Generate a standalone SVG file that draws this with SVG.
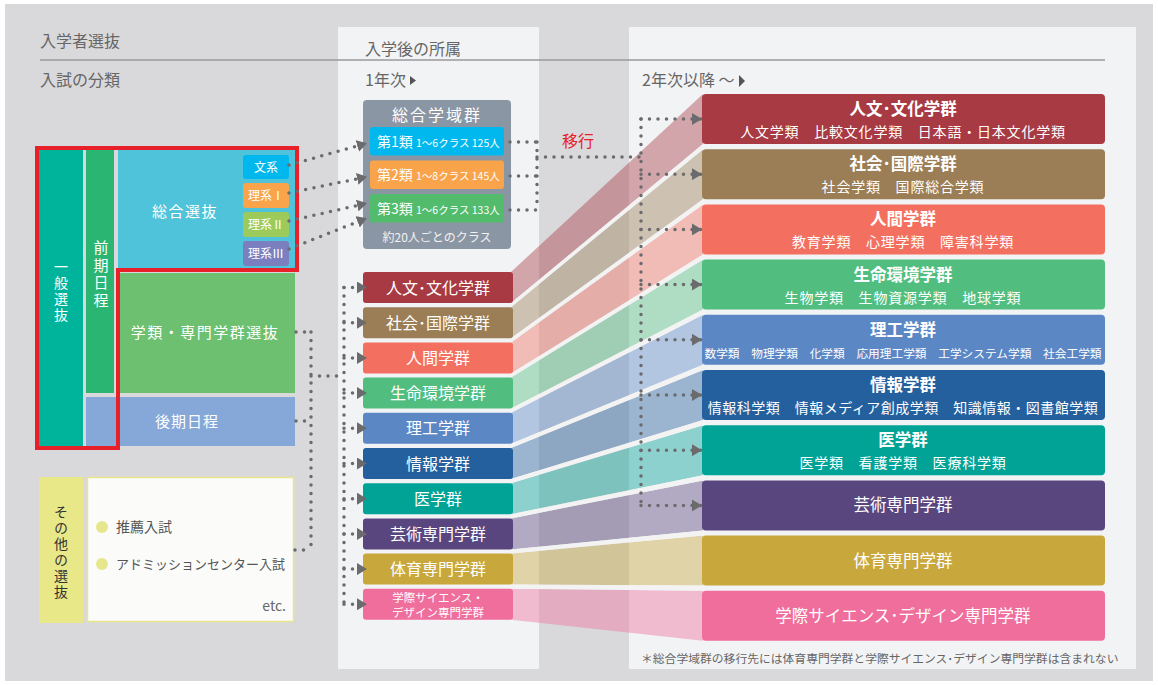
<svg xmlns="http://www.w3.org/2000/svg" width="1158" height="685" viewBox="0 0 1158 685">
<style>
text{font-family:"Noto Sans CJK JP","Noto Sans",sans-serif}
.hd{font-size:16px;fill:#666}
.w{fill:#fff}
.lb{font-size:15px;fill:#fff;text-anchor:middle;letter-spacing:1.5px}
.vt{font-size:14px;fill:#fff;writing-mode:vertical-rl;text-orientation:upright;letter-spacing:2px}
.tab{font-size:12px;fill:#fff;text-anchor:middle}
.cl{font-size:16px;fill:#fff;text-anchor:middle}
.rt{font-size:16.5px;fill:#fff;text-anchor:middle;font-weight:bold}
.rt2{font-size:16.5px;fill:#fff;text-anchor:middle}
.rs{font-size:14px;fill:#fff;text-anchor:middle;letter-spacing:0.8px}
.dot{fill:none;stroke:#6b6b6d;stroke-width:3.5;stroke-linecap:round;stroke-dasharray:0 8.5}
.rib{opacity:0.42}
.sep{fill:#f3f3f4}
</style>
<defs>
<marker id="ah" markerUnits="userSpaceOnUse" viewBox="0 0 10 12" markerWidth="10" markerHeight="12" refX="9" refY="6" orient="auto">
<path d="M0,0 L10,6 L0,12 z" fill="#6b6b6d"/>
</marker>
</defs>
<rect x="0" y="0" width="1158" height="685" fill="#fff"/>
<rect x="5" y="4" width="1148" height="677" fill="#d9d9db"/>
<rect x="338" y="27" width="201" height="642" fill="#f2f3f5"/>
<rect x="629" y="27" width="507" height="642" fill="#f2f3f5"/>
<line x1="40" y1="60" x2="1105" y2="60" stroke="#9a9a9c" stroke-width="1.5"/>
<g id="headers">
<text class="hd" x="40" y="47">入学者選抜</text>
<text class="hd" x="40" y="86">入試の分類</text>
<text class="hd" x="365" y="55">入学後の所属</text>
<text class="hd" x="365" y="86">1年次</text>
<polygon points="410,76 416,80.5 410,85" fill="#555"/>
<text class="hd" x="642" y="86">2年次以降 ～</text>
<polygon points="739,75 745,81 739,87" fill="#555"/>
</g>
<g id="ribbons">
<polygon class="rib" fill="#a83a43" points="511,272 703,94 703,144 511,303"/>
<polygon class="rib" fill="#9b7e56" points="511,307.2 703,149.2 703,199.2 511,338.2"/>
<polygon class="rib" fill="#f37060" points="511,342.4 703,204.4 703,254.4 511,373.4"/>
<polygon class="rib" fill="#51be80" points="511,377.6 703,259.6 703,309.6 511,408.6"/>
<polygon class="rib" fill="#5b87c5" points="511,412.8 703,314.8 703,364.8 511,443.8"/>
<polygon class="rib" fill="#24609d" points="511,448 703,370 703,420 511,479"/>
<polygon class="rib" fill="#01a396" points="511,483.2 703,425.2 703,475.2 511,514.2"/>
<polygon class="rib" fill="#5a467e" points="511,518.4 703,480.4 703,530.4 511,549.4"/>
<polygon class="rib" fill="#c8a83d" points="511,553.6 703,535.6 703,585.6 511,584.6"/>
<polygon class="rib" fill="#f06e9c" points="511,588.8 703,590.8 703,640.8 511,619.8"/>
<polygon class="sep" points="511,303 703,144 703,149.2 511,307.2"/>
<polygon class="sep" points="511,338.2 703,199.2 703,204.4 511,342.4"/>
<polygon class="sep" points="511,373.4 703,254.4 703,259.6 511,377.6"/>
<polygon class="sep" points="511,408.6 703,309.6 703,314.8 511,412.8"/>
<polygon class="sep" points="511,443.8 703,364.8 703,370 511,448"/>
<polygon class="sep" points="511,479 703,420 703,425.2 511,483.2"/>
<polygon class="sep" points="511,514.2 703,475.2 703,480.4 511,518.4"/>
<polygon class="sep" points="511,549.4 703,530.4 703,535.6 511,553.6"/>
<polygon class="sep" points="511,584.6 703,585.6 703,590.8 511,588.8"/>
</g>
<g id="ippan">
<rect x="39" y="150" width="44" height="296" fill="#00b49c"/>
<text class="vt" x="61" y="260">一般選抜</text>
</g>
<g id="zenki">
<rect x="86" y="150" width="28" height="243" fill="#2ab573"/>
<text class="vt" x="101" y="240" style="font-size:15px;letter-spacing:2.5px">前期日程</text>
</g>
<g id="sogo">
<rect x="118" y="150" width="177" height="119" fill="#4fc3d9"/>
<text class="lb" x="185" y="217">総合選抜</text>
</g>
<g id="tab-bunkei"><rect x="243" y="155" width="46" height="24" rx="3" fill="#00b8ee"/><text class="tab" x="266" y="171.5">文系</text></g>
<g id="tab-rikei1"><rect x="243" y="183" width="46" height="25" rx="3" fill="#f9a44a"/><text class="tab" x="266" y="200">理系Ⅰ</text></g>
<g id="tab-rikei2"><rect x="243" y="212" width="46" height="25" rx="3" fill="#9ccb5b"/><text class="tab" x="266" y="229">理系Ⅱ</text></g>
<g id="tab-rikei3"><rect x="243" y="241" width="46" height="25" rx="3" fill="#7b7fc0"/><text class="tab" x="266" y="258">理系Ⅲ</text></g>
<g id="gakurui">
<rect x="118" y="273" width="177" height="120" fill="#6cc070"/>
<text class="lb" x="205" y="338">学類・専門学群選抜</text>
</g>
<g id="koki">
<rect x="86" y="397" width="209" height="49" fill="#86a8d8"/>
<text class="lb" x="187" y="427" style="letter-spacing:1px">後期日程</text>
</g>
<path id="red-outline" d="M37,148 H297 V270 H118 V448 H37 Z" fill="none" stroke="#e8202a" stroke-width="4"/>
<g id="sonota">
<rect x="39" y="477" width="44" height="146" fill="#e8e888"/>
<text class="vt" x="61" y="505" style="fill:#333">その他の選抜</text>
</g>
<g id="sonota-list">
<rect x="87.5" y="477.5" width="206" height="144" fill="#fbfcfa" stroke="#e8e68a" stroke-width="1.5"/>
<circle cx="102" cy="527" r="6" fill="#e6e68c"/>
<text x="116" y="532" style="font-size:14px;fill:#555">推薦入試</text>
<circle cx="102" cy="564" r="6" fill="#e6e68c"/>
<text x="116" y="569" style="font-size:13px;fill:#555">アドミッションセンター入試</text>
<text x="286" y="611" style="font-size:14px;fill:#666;text-anchor:end">etc.</text>
</g>
<g id="sogo-gakuiki">
<rect x="363" y="100" width="148" height="149" rx="4" fill="#8b96a4"/>
<text x="437" y="121" style="font-size:16px;fill:#fff;text-anchor:middle;letter-spacing:2px">総合学域群</text>
<rect x="370" y="127" width="134" height="28.5" rx="3" fill="#00b8ee"/>
<text x="377" y="146.5" class="w"><tspan style="font-size:14px">第1類</tspan><tspan x="416" style="font-size:10.5px">1～6クラス 125人</tspan></text>
<rect x="370" y="160.5" width="134" height="28.5" rx="3" fill="#f9a44a"/>
<text x="377" y="180" class="w"><tspan style="font-size:14px">第2類</tspan><tspan x="416" style="font-size:10.5px">1～8クラス 145人</tspan></text>
<rect x="370" y="194" width="134" height="28.5" rx="3" fill="#52bb6c"/>
<text x="377" y="213.5" class="w"><tspan style="font-size:14px">第3類</tspan><tspan x="416" style="font-size:10.5px">1～6クラス 133人</tspan></text>
<text x="437" y="242" style="font-size:12px;fill:#f2f2f2;text-anchor:middle">約20人ごとのクラス</text>
</g>
<text id="ikou" x="578" y="147" style="font-size:16px;fill:#e8202a;text-anchor:middle">移行</text>
<g id="c-jinbun"><rect x="363" y="272" width="150" height="31" rx="3" fill="#a83a43"/><text class="cl" x="438" y="293.5">人文･文化学群</text></g>
<g id="c-shakai"><rect x="363" y="307.2" width="150" height="31" rx="3" fill="#9b7e56"/><text class="cl" x="438" y="328.7">社会･国際学群</text></g>
<g id="c-ningen"><rect x="363" y="342.4" width="150" height="31" rx="3" fill="#f37060"/><text class="cl" x="438" y="363.9">人間学群</text></g>
<g id="c-seimei"><rect x="363" y="377.6" width="150" height="31" rx="3" fill="#51be80"/><text class="cl" x="438" y="399.1">生命環境学群</text></g>
<g id="c-riko"><rect x="363" y="412.8" width="150" height="31" rx="3" fill="#5b87c5"/><text class="cl" x="438" y="434.3">理工学群</text></g>
<g id="c-joho"><rect x="363" y="448" width="150" height="31" rx="3" fill="#24609d"/><text class="cl" x="438" y="469.5">情報学群</text></g>
<g id="c-igaku"><rect x="363" y="483.2" width="150" height="31" rx="3" fill="#01a396"/><text class="cl" x="438" y="504.7">医学群</text></g>
<g id="c-geijutsu"><rect x="363" y="518.4" width="150" height="31" rx="3" fill="#5a467e"/><text class="cl" x="438" y="539.9">芸術専門学群</text></g>
<g id="c-taiiku"><rect x="363" y="553.6" width="150" height="31" rx="3" fill="#c8a83d"/><text class="cl" x="438" y="575.1">体育専門学群</text></g>
<g id="c-gakusai"><rect x="363" y="588.8" width="150" height="31" rx="3" fill="#f06e9c"/><text class="cl" x="438" y="602" style="font-size:11.5px">学際サイエンス・</text><text class="cl" x="438" y="616.5" style="font-size:11.5px">デザイン専門学群</text></g>
<g id="r-jinbun"><rect x="702" y="94" width="403" height="50" rx="4" fill="#a83a43"/><text class="rt" x="903" y="115">人文･文化学群</text><text class="rs" x="903" y="137">人文学類　比較文化学類　日本語・日本文化学類</text></g>
<g id="r-shakai"><rect x="702" y="149.2" width="403" height="50" rx="4" fill="#9b7e56"/><text class="rt" x="903" y="170.2">社会･国際学群</text><text class="rs" x="903" y="192.2">社会学類　国際総合学類</text></g>
<g id="r-ningen"><rect x="702" y="204.4" width="403" height="50" rx="4" fill="#f37060"/><text class="rt" x="903" y="225.4">人間学群</text><text class="rs" x="903" y="247.4">教育学類　心理学類　障害科学類</text></g>
<g id="r-seimei"><rect x="702" y="259.6" width="403" height="50" rx="4" fill="#51be80"/><text class="rt" x="903" y="280.6">生命環境学群</text><text class="rs" x="903" y="302.6">生物学類　生物資源学類　地球学類</text></g>
<g id="r-riko"><rect x="702" y="314.8" width="403" height="50" rx="4" fill="#5b87c5"/><text class="rt" x="903" y="335.8">理工学群</text><text class="rs" x="903" y="357.8" style="font-size:11.7px;letter-spacing:0">数学類　物理学類　化学類　応用理工学類　工学システム学類　社会工学類</text></g>
<g id="r-joho"><rect x="702" y="370" width="403" height="50" rx="4" fill="#24609d"/><text class="rt" x="903" y="391">情報学群</text><text class="rs" x="903" y="413" style="letter-spacing:0.5px">情報科学類　情報メディア創成学類　知識情報・図書館学類</text></g>
<g id="r-igaku"><rect x="702" y="425.2" width="403" height="50" rx="4" fill="#01a396"/><text class="rt" x="903" y="446.2">医学群</text><text class="rs" x="903" y="468.2">医学類　看護学類　医療科学類</text></g>
<g id="r-geijutsu"><rect x="702" y="480.4" width="403" height="50" rx="4" fill="#5a467e"/><text class="rt2" x="903" y="511.4">芸術専門学群</text></g>
<g id="r-taiiku"><rect x="702" y="535.6" width="403" height="50" rx="4" fill="#c8a83d"/><text class="rt2" x="903" y="566.6">体育専門学群</text></g>
<g id="r-gakusai"><rect x="702" y="590.8" width="403" height="50" rx="4" fill="#f06e9c"/><text class="rt2" x="903" y="621.8">学際サイエンス･デザイン専門学群</text></g>
<text id="footnote" x="641" y="663" style="font-size:11.8px;fill:#666">＊総合学域群の移行先には体育専門学群と学際サイエンス･デザイン専門学群は含まれない</text>
<g id="connectors">
<path class="dot" d="M289,165 L366,143.5" marker-end="url(#ah)"/>
<path class="dot" d="M289,193 L366,177" marker-end="url(#ah)"/>
<path class="dot" d="M289,221 L366,203.5" marker-end="url(#ah)"/>
<path class="dot" d="M289,249 L366,218.5" marker-end="url(#ah)"/>
<path class="dot" d="M510,142 H537 M510,176 H537 M510,210 H537 M537,142 V210 M537,157 H641 M641,119 V505.4"/>
<path class="dot" d="M641,119 H701" marker-end="url(#ah)"/>
<path class="dot" d="M641,174.2 H701" marker-end="url(#ah)"/>
<path class="dot" d="M641,229.4 H701" marker-end="url(#ah)"/>
<path class="dot" d="M641,284.6 H701" marker-end="url(#ah)"/>
<path class="dot" d="M641,339.8 H701" marker-end="url(#ah)"/>
<path class="dot" d="M641,395 H701" marker-end="url(#ah)"/>
<path class="dot" d="M641,450.2 H701" marker-end="url(#ah)"/>
<path class="dot" d="M641,505.4 H701" marker-end="url(#ah)"/>
<path class="dot" d="M296,332 H311 M296,421 H311 M295,550 H311 M311,332 V550 M311,376 H344 M344,287.5 V604.3"/>
<path class="dot" d="M344,287.5 H366" marker-end="url(#ah)"/>
<path class="dot" d="M344,322.7 H366" marker-end="url(#ah)"/>
<path class="dot" d="M344,357.9 H366" marker-end="url(#ah)"/>
<path class="dot" d="M344,393.1 H366" marker-end="url(#ah)"/>
<path class="dot" d="M344,428.3 H366" marker-end="url(#ah)"/>
<path class="dot" d="M344,463.5 H366" marker-end="url(#ah)"/>
<path class="dot" d="M344,498.7 H366" marker-end="url(#ah)"/>
<path class="dot" d="M344,533.9 H366" marker-end="url(#ah)"/>
<path class="dot" d="M344,569.1 H366" marker-end="url(#ah)"/>
<path class="dot" d="M344,604.3 H366" marker-end="url(#ah)"/>
</g>
</svg>
